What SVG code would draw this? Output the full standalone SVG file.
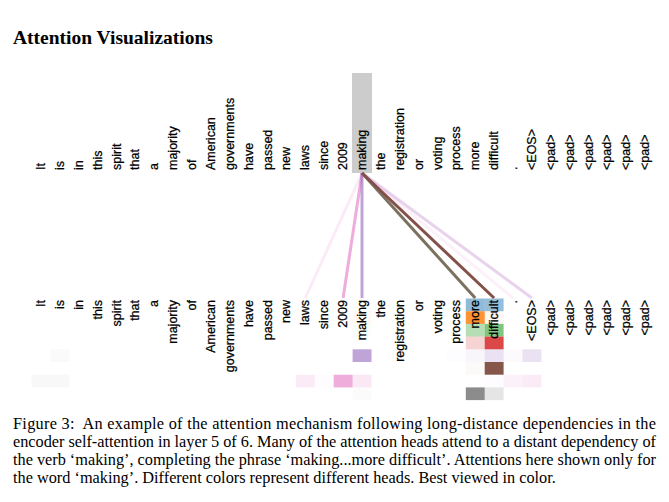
<svg xmlns="http://www.w3.org/2000/svg" width="669" height="502" viewBox="0 0 669 502">
<style>
.tok{font-family:"Liberation Sans",Arial,sans-serif;font-size:12.5px;fill:#000;stroke:#000;stroke-width:0.25}
.top{text-anchor:start}
.bot{text-anchor:end}
.title{font-family:"Liberation Serif","Times New Roman",serif;font-size:19.5px;font-weight:bold;fill:#000}
.cap{font-family:"Liberation Serif","Times New Roman",serif;font-size:16.3px;fill:#000}
.ln{fill:none;stroke-width:3;stroke-linecap:butt}
</style>
<rect width="669" height="502" fill="#fff"/>
<text class="title" x="13" y="44">Attention Visualizations</text>

<g id="highlight"><rect x="352" y="73" width="20" height="100" fill="#cccccc"/></g>

<g id="cells">
<rect x="465.8" y="298.5" width="18.9" height="12.7" fill="#1f77b4" fill-opacity="0.5"/>
<rect x="484.7" y="298.5" width="18.9" height="12.7" fill="#1f77b4" fill-opacity="0.48"/>
<rect x="352.6" y="311.2" width="18.9" height="12.7" fill="#ff7f0e" fill-opacity="0.05"/>
<rect x="465.8" y="311.2" width="18.9" height="12.7" fill="#ff7f0e" fill-opacity="0.85"/>
<rect x="484.7" y="311.2" width="18.9" height="12.7" fill="#ff7f0e" fill-opacity="0.06"/>
<rect x="352.6" y="323.9" width="18.9" height="12.7" fill="#2ca02c" fill-opacity="0.02"/>
<rect x="465.8" y="323.9" width="18.9" height="12.7" fill="#2ca02c" fill-opacity="0.35"/>
<rect x="484.7" y="323.9" width="18.9" height="12.7" fill="#2ca02c" fill-opacity="0.6"/>
<rect x="465.8" y="336.6" width="18.9" height="12.7" fill="#d62728" fill-opacity="0.2"/>
<rect x="484.7" y="336.6" width="18.9" height="12.7" fill="#d62728" fill-opacity="0.85"/>
<rect x="50.5" y="349.3" width="18.9" height="12.7" fill="#7f7f7f" fill-opacity="0.04"/>
<rect x="352.6" y="349.3" width="18.9" height="12.7" fill="#9467bd" fill-opacity="0.6"/>
<rect x="447" y="349.3" width="18.9" height="12.7" fill="#9467bd" fill-opacity="0.02"/>
<rect x="465.8" y="349.3" width="18.9" height="12.7" fill="#9467bd" fill-opacity="0.06"/>
<rect x="484.7" y="349.3" width="18.9" height="12.7" fill="#9467bd" fill-opacity="0.2"/>
<rect x="503.6" y="349.3" width="18.9" height="12.7" fill="#9467bd" fill-opacity="0.03"/>
<rect x="522.5" y="349.3" width="18.9" height="12.7" fill="#9467bd" fill-opacity="0.2"/>
<rect x="465.8" y="362" width="18.9" height="12.7" fill="#8c564b" fill-opacity="0.03"/>
<rect x="484.7" y="362" width="18.9" height="12.7" fill="#86564a"/>
<rect x="31.6" y="374.7" width="18.9" height="12.7" fill="#7f7f7f" fill-opacity="0.05"/>
<rect x="50.5" y="374.7" width="18.9" height="12.7" fill="#7f7f7f" fill-opacity="0.05"/>
<rect x="295.9" y="374.7" width="18.9" height="12.7" fill="#e377c2" fill-opacity="0.15"/>
<rect x="314.8" y="374.7" width="18.9" height="12.7" fill="#e377c2" fill-opacity="0.02"/>
<rect x="333.7" y="374.7" width="18.9" height="12.7" fill="#e377c2" fill-opacity="0.6"/>
<rect x="352.6" y="374.7" width="18.9" height="12.7" fill="#e377c2" fill-opacity="0.17"/>
<rect x="484.7" y="374.7" width="18.9" height="12.7" fill="#e377c2" fill-opacity="0.02"/>
<rect x="503.6" y="374.7" width="18.9" height="12.7" fill="#e377c2" fill-opacity="0.1"/>
<rect x="522.5" y="374.7" width="18.9" height="12.7" fill="#e377c2" fill-opacity="0.15"/>
<rect x="352.6" y="387.4" width="18.9" height="12.7" fill="#7f7f7f" fill-opacity="0.03"/>
<rect x="465.8" y="387.4" width="18.9" height="12.7" fill="#7f7f7f" fill-opacity="0.9"/>
<rect x="484.7" y="387.4" width="18.9" height="12.7" fill="#7f7f7f" fill-opacity="0.2"/>
</g>

<g id="connectors">
<line class="ln" x1="362" y1="173" x2="305.3" y2="298" stroke="#e377c2" stroke-opacity="0.15"/>
<line class="ln" x1="362" y1="173" x2="343.1" y2="298" stroke="#e377c2" stroke-opacity="0.6"/>
<line class="ln" x1="362" y1="173" x2="362" y2="298" stroke="#9467bd" stroke-opacity="0.6"/>
<line class="ln" x1="362" y1="173" x2="513" y2="298" stroke="#e377c2" stroke-opacity="0.1"/>
<line class="ln" x1="362" y1="173" x2="531.9" y2="298" stroke="#9467bd" stroke-opacity="0.2"/>
<line class="ln" x1="362" y1="173" x2="531.9" y2="298" stroke="#e377c2" stroke-opacity="0.12"/>
<line class="ln" x1="362" y1="173" x2="475.2" y2="298" stroke="#7b715f"/>
<line class="ln" x1="362" y1="173" x2="494.1" y2="298" stroke="#84514a"/>
</g>

<g id="source-tokens" class="tok top">
<g id="s0"><text transform="translate(45,170) rotate(-90)">It</text></g>
<g id="s1"><text transform="translate(63.9,170) rotate(-90)">is</text></g>
<g id="s2"><text transform="translate(82.8,170) rotate(-90)">in</text></g>
<g id="s3"><text transform="translate(101.6,170) rotate(-90)">this</text></g>
<g id="s4"><text transform="translate(120.5,170) rotate(-90)">spirit</text></g>
<g id="s5"><text transform="translate(139.4,170) rotate(-90)">that</text></g>
<g id="s6"><text transform="translate(158.3,170) rotate(-90)">a</text></g>
<g id="s7"><text transform="translate(177.2,170) rotate(-90)">majority</text></g>
<g id="s8"><text transform="translate(196,170) rotate(-90)">of</text></g>
<g id="s9"><text transform="translate(214.9,170) rotate(-90)">American</text></g>
<g id="s10"><text transform="translate(233.8,170) rotate(-90)">governments</text></g>
<g id="s11"><text transform="translate(252.7,170) rotate(-90)">have</text></g>
<g id="s12"><text transform="translate(271.6,170) rotate(-90)">passed</text></g>
<g id="s13"><text transform="translate(290.4,170) rotate(-90)">new</text></g>
<g id="s14"><text transform="translate(309.3,170) rotate(-90)">laws</text></g>
<g id="s15"><text transform="translate(328.2,170) rotate(-90)">since</text></g>
<g id="s16"><text transform="translate(347.1,170) rotate(-90)">2009</text></g>
<g id="s17"><text transform="translate(366,170) rotate(-90)">making</text></g>
<g id="s18"><text transform="translate(384.8,170) rotate(-90)">the</text></g>
<g id="s19"><text transform="translate(403.7,170) rotate(-90)">registration</text></g>
<g id="s20"><text transform="translate(422.6,170) rotate(-90)">or</text></g>
<g id="s21"><text transform="translate(441.5,170) rotate(-90)">voting</text></g>
<g id="s22"><text transform="translate(460.4,170) rotate(-90)">process</text></g>
<g id="s23"><text transform="translate(479.2,170) rotate(-90)">more</text></g>
<g id="s24"><text transform="translate(498.1,170) rotate(-90)">difficult</text></g>
<g id="s25"><text transform="translate(517,170) rotate(-90)">.</text></g>
<g id="s26"><text transform="translate(535.9,170) rotate(-90)">&lt;EOS&gt;</text></g>
<g id="s27"><text transform="translate(554.8,170) rotate(-90)">&lt;pad&gt;</text></g>
<g id="s28"><text transform="translate(573.6,170) rotate(-90)">&lt;pad&gt;</text></g>
<g id="s29"><text transform="translate(592.5,170) rotate(-90)">&lt;pad&gt;</text></g>
<g id="s30"><text transform="translate(611.4,170) rotate(-90)">&lt;pad&gt;</text></g>
<g id="s31"><text transform="translate(630.3,170) rotate(-90)">&lt;pad&gt;</text></g>
<g id="s32"><text transform="translate(649.2,170) rotate(-90)">&lt;pad&gt;</text></g>
</g>

<g id="target-tokens" class="tok bot">
<g id="t0"><text transform="translate(45,300) rotate(-90)">It</text></g>
<g id="t1"><text transform="translate(63.9,300) rotate(-90)">is</text></g>
<g id="t2"><text transform="translate(82.8,300) rotate(-90)">in</text></g>
<g id="t3"><text transform="translate(101.6,300) rotate(-90)">this</text></g>
<g id="t4"><text transform="translate(120.5,300) rotate(-90)">spirit</text></g>
<g id="t5"><text transform="translate(139.4,300) rotate(-90)">that</text></g>
<g id="t6"><text transform="translate(158.3,300) rotate(-90)">a</text></g>
<g id="t7"><text transform="translate(177.2,300) rotate(-90)">majority</text></g>
<g id="t8"><text transform="translate(196,300) rotate(-90)">of</text></g>
<g id="t9"><text transform="translate(214.9,300) rotate(-90)">American</text></g>
<g id="t10"><text transform="translate(233.8,300) rotate(-90)">governments</text></g>
<g id="t11"><text transform="translate(252.7,300) rotate(-90)">have</text></g>
<g id="t12"><text transform="translate(271.6,300) rotate(-90)">passed</text></g>
<g id="t13"><text transform="translate(290.4,300) rotate(-90)">new</text></g>
<g id="t14"><text transform="translate(309.3,300) rotate(-90)">laws</text></g>
<g id="t15"><text transform="translate(328.2,300) rotate(-90)">since</text></g>
<g id="t16"><text transform="translate(347.1,300) rotate(-90)">2009</text></g>
<g id="t17"><text transform="translate(366,300) rotate(-90)">making</text></g>
<g id="t18"><text transform="translate(384.8,300) rotate(-90)">the</text></g>
<g id="t19"><text transform="translate(403.7,300) rotate(-90)">registration</text></g>
<g id="t20"><text transform="translate(422.6,300) rotate(-90)">or</text></g>
<g id="t21"><text transform="translate(441.5,300) rotate(-90)">voting</text></g>
<g id="t22"><text transform="translate(460.4,300) rotate(-90)">process</text></g>
<g id="t23"><text transform="translate(479.2,300) rotate(-90)">more</text></g>
<g id="t24"><text transform="translate(498.1,300) rotate(-90)">difficult</text></g>
<g id="t25"><text transform="translate(517,300) rotate(-90)">.</text></g>
<g id="t26"><text transform="translate(535.9,300) rotate(-90)">&lt;EOS&gt;</text></g>
<g id="t27"><text transform="translate(554.8,300) rotate(-90)">&lt;pad&gt;</text></g>
<g id="t28"><text transform="translate(573.6,300) rotate(-90)">&lt;pad&gt;</text></g>
<g id="t29"><text transform="translate(592.5,300) rotate(-90)">&lt;pad&gt;</text></g>
<g id="t30"><text transform="translate(611.4,300) rotate(-90)">&lt;pad&gt;</text></g>
<g id="t31"><text transform="translate(630.3,300) rotate(-90)">&lt;pad&gt;</text></g>
<g id="t32"><text transform="translate(649.2,300) rotate(-90)">&lt;pad&gt;</text></g>
</g>

<g id="caption" class="cap">
<text x="13" y="429" textLength="643" lengthAdjust="spacing">Figure 3:&#160; An example of the attention mechanism following long-distance dependencies in the</text>
<text x="13" y="447" textLength="643" lengthAdjust="spacing">encoder self-attention in layer 5 of 6. Many of the attention heads attend to a distant dependency of</text>
<text x="13" y="465" textLength="643" lengthAdjust="spacing">the verb ‘making’, completing the phrase ‘making...more difficult’. Attentions here shown only for</text>
<text x="13" y="483">the word ‘making’. Different colors represent different heads. Best viewed in color.</text>
</g>
</svg>
